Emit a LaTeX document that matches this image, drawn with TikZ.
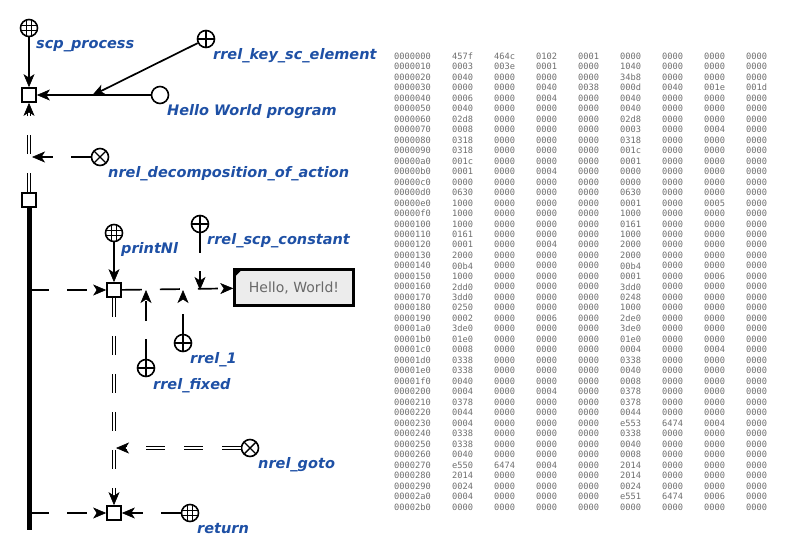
\documentclass[tikz,border=0pt]{standalone}
\usepackage{fontspec}
\setmainfont{DejaVu Sans}
\newfontfamily\hexfont{DejaVu Sans Mono}
\usetikzlibrary{positioning,arrows.meta,decorations.markings}
\definecolor{scblue}{RGB}{30,80,165}
\definecolor{hexgray}{RGB}{110,110,110}
\definecolor{boxgray}{RGB}{236,236,236}
\definecolor{boxtext}{RGB}{105,105,105}
\tikzset{
	sqnode/.style = {draw, line width=1.7pt, minimum size=14pt, inner sep=0pt},
	scnode/.style = {circle, draw, line width=1.6pt, minimum size=17pt, inner sep=0pt},
	plusnode/.style = {scnode, path picture={
		\draw [line width=1.4pt] (path picture bounding box.north) -- (path picture bounding box.south)
		  (path picture bounding box.west) -- (path picture bounding box.east);}},
	timesnode/.style = {scnode, path picture={
		\draw [line width=1.4pt] (path picture bounding box.north west) -- (path picture bounding box.south east)
		  (path picture bounding box.south west) -- (path picture bounding box.north east);}},
	gridnode/.style = {scnode, path picture={
		\foreach \d in {-2.8pt,2.8pt}{
		  \draw [line width=1.1pt] ([xshift=\d]path picture bounding box.north) -- ([xshift=\d]path picture bounding box.south)
		    ([yshift=\d]path picture bounding box.west) -- ([yshift=\d]path picture bounding box.east);}}},
	lbl/.style = {text=scblue, font=\fontsize{14.5}{16}\selectfont\bfseries\itshape, inner sep=0pt, anchor=base west},
	hexcell/.style = {text=hexgray, font=\hexfont\fontsize{8.7}{10}\selectfont, inner sep=0pt, anchor=west},
	sctip/.tip = {Stealth[length=13pt, width=11pt, inset=3.5pt, line width=0.6pt]},
	sarc/.style = {line width=1.7pt, -sctip},
	dsarc/.style = {sarc, dash pattern=on 20pt off 18pt},
	darc/.style = {line width=4pt, dash pattern=on 19pt off 19pt, shorten >=9pt,
		postaction={draw=white, line width=2.2pt, dash pattern=on 19pt off 19pt, shorten >=9pt},
		postaction={decorate, decoration={markings, mark=at position 1 with {\arrow[solid]{sctip}}}}}
}

\begin{document}
\begin{tikzpicture}[x=1pt, y=-1pt]
\useasboundingbox (0,0) rectangle (785,542);

% NODES

% process
\node (sqA) [sqnode] at (29,95) {};
\node (scpprocess) [gridnode] at (29,28) {};
\node (scpprocesslabel) [lbl] at ([shift={(7pt,-20.5pt)}]scpprocess.center) {scp\_process};
\node (rrelkey) [plusnode] at (206,39) {};
\node (rrelkeylabel) [lbl] at ([shift={(7pt,-20.5pt)}]rrelkey.center) {rrel\_key\_sc\_element};
\node (hello) [scnode] at (160,95) {};
\node (hellolabel) [lbl] at ([shift={(7pt,-20.5pt)}]hello.center) {Hello World program};
\coordinate (keyjoin) at (93,95);

% decomposition
\node (sqB) [sqnode] at (29,200) {};
\coordinate (decompjoin) at (29,157);
\node (decomp) [timesnode] at (100,157) {};
\node (decomplabel) [lbl] at ([shift={(8pt,-20.5pt)}]decomp.center) {nrel\_decomposition\_of\_action};
\coordinate (busC) at (29,290);
\coordinate (busD) at (29,513);
\coordinate (busend) at (29,530);

% printNl
\node (sqC) [sqnode] at (114,290) {};
\node (printnl) [gridnode] at (114,233) {};
\node (printnllabel) [lbl] at ([shift={(7pt,-20.5pt)}]printnl.center) {printNl};
\node (hellobox) [draw, line width=2.5pt, fill=boxgray, minimum width=119pt, minimum height=36pt,
	text=boxtext, font=\fontsize{14}{16}\selectfont] at (294,287.5) {Hello, World!};
\node (scpconst) [plusnode] at (200,224) {};
\node (scpconstlabel) [lbl] at ([shift={(7pt,-20.5pt)}]scpconst.center) {rrel\_scp\_constant};
\node (rrelone) [plusnode] at (183,343) {};
\node (rrelonelabel) [lbl] at ([shift={(7pt,-20.5pt)}]rrelone.center) {rrel\_1};
\node (rrelfixed) [plusnode] at (146,368) {};
\node (rrelfixedlabel) [lbl] at ([shift={(7pt,-21pt)}]rrelfixed.center) {rrel\_fixed};
\coordinate (constjoin) at (200,290);
\coordinate (onejoin) at (183,290);
\coordinate (fixedjoin) at (146,290);

% goto, return
\node (sqD) [sqnode] at (114,513) {};
\coordinate (gotojoin) at (116,448);
\node (gotorel) [timesnode] at (250,448) {};
\node (gotolabel) [lbl] at ([shift={(8pt,-20.5pt)}]gotorel.center) {nrel\_goto};
\node (returnop) [gridnode] at (190,513) {};
\node (returnlabel) [lbl] at ([shift={(7pt,-20.5pt)}]returnop.center) {return};

% hex dump
\foreach \ad/\ca/\cb/\cc/\cd/\ce/\cf/\cg/\ch [count=\r from 0] in {
0000000/457f/464c/0102/0001/0000/0000/0000/0000,
0000010/0003/003e/0001/0000/1040/0000/0000/0000,
0000020/0040/0000/0000/0000/34b8/0000/0000/0000,
0000030/0000/0000/0040/0038/000d/0040/001e/001d,
0000040/0006/0000/0004/0000/0040/0000/0000/0000,
0000050/0040/0000/0000/0000/0040/0000/0000/0000,
0000060/02d8/0000/0000/0000/02d8/0000/0000/0000,
0000070/0008/0000/0000/0000/0003/0000/0004/0000,
0000080/0318/0000/0000/0000/0318/0000/0000/0000,
0000090/0318/0000/0000/0000/001c/0000/0000/0000,
00000a0/001c/0000/0000/0000/0001/0000/0000/0000,
00000b0/0001/0000/0004/0000/0000/0000/0000/0000,
00000c0/0000/0000/0000/0000/0000/0000/0000/0000,
00000d0/0630/0000/0000/0000/0630/0000/0000/0000,
00000e0/1000/0000/0000/0000/0001/0000/0005/0000,
00000f0/1000/0000/0000/0000/1000/0000/0000/0000,
0000100/1000/0000/0000/0000/0161/0000/0000/0000,
0000110/0161/0000/0000/0000/1000/0000/0000/0000,
0000120/0001/0000/0004/0000/2000/0000/0000/0000,
0000130/2000/0000/0000/0000/2000/0000/0000/0000,
0000140/00b4/0000/0000/0000/00b4/0000/0000/0000,
0000150/1000/0000/0000/0000/0001/0000/0006/0000,
0000160/2dd0/0000/0000/0000/3dd0/0000/0000/0000,
0000170/3dd0/0000/0000/0000/0248/0000/0000/0000,
0000180/0250/0000/0000/0000/1000/0000/0000/0000,
0000190/0002/0000/0006/0000/2de0/0000/0000/0000,
00001a0/3de0/0000/0000/0000/3de0/0000/0000/0000,
00001b0/01e0/0000/0000/0000/01e0/0000/0000/0000,
00001c0/0008/0000/0000/0000/0004/0000/0004/0000,
00001d0/0338/0000/0000/0000/0338/0000/0000/0000,
00001e0/0338/0000/0000/0000/0040/0000/0000/0000,
00001f0/0040/0000/0000/0000/0008/0000/0000/0000,
0000200/0004/0000/0004/0000/0378/0000/0000/0000,
0000210/0378/0000/0000/0000/0378/0000/0000/0000,
0000220/0044/0000/0000/0000/0044/0000/0000/0000,
0000230/0004/0000/0000/0000/e553/6474/0004/0000,
0000240/0338/0000/0000/0000/0338/0000/0000/0000,
0000250/0338/0000/0000/0000/0040/0000/0000/0000,
0000260/0040/0000/0000/0000/0008/0000/0000/0000,
0000270/e550/6474/0004/0000/2014/0000/0000/0000,
0000280/2014/0000/0000/0000/2014/0000/0000/0000,
0000290/0024/0000/0000/0000/0024/0000/0000/0000,
00002a0/0004/0000/0000/0000/e551/6474/0006/0000,
00002b0/0000/0000/0000/0000/0000/0000/0000/0000}{
  \node (hexaddr\r) [hexcell] at (394, 56+10.49*\r) {\ad};
  \foreach \v [count=\c from 0] in {\ca,\cb,\cc,\cd,\ce,\cf,\cg,\ch}
    \node (hex\r-\c) [hexcell] at (452+42*\c, 56+10.49*\r) {\v};
}

% CONNECTIONS
\draw [sarc] (scpprocess) -- (sqA);
\draw [sarc] (hello) -- (sqA);
\draw [sarc, shorten >=-1pt] (rrelkey) -- (keyjoin);
\draw [darc] (sqB) -- (sqA);
\draw [dsarc, shorten >=3pt] (decomp) -- (decompjoin);
\draw [line width=5pt] (sqB.south) -- (busend);
\draw [dsarc] (busC) -- (sqC);
\draw [sarc] (printnl) -- (sqC);
\draw [dsarc] (sqC) -- (hellobox);
\draw [dsarc] (scpconst) -- (constjoin);
\draw [dsarc] (rrelone) -- (onejoin);
\draw [dsarc] (rrelfixed) -- (fixedjoin);
\draw [darc] (sqC) -- (sqD);
\draw [darc] (gotorel) -- (gotojoin);
\draw [dsarc] (busD) -- (sqD);
\draw [dsarc] (returnop) -- (sqD);
\fill ([shift={(1.5pt,-1.5pt)}]hellobox.north west) -- ++(7pt,0) -- ++(-7pt,-7pt) -- cycle;

\end{tikzpicture}
\end{document}
